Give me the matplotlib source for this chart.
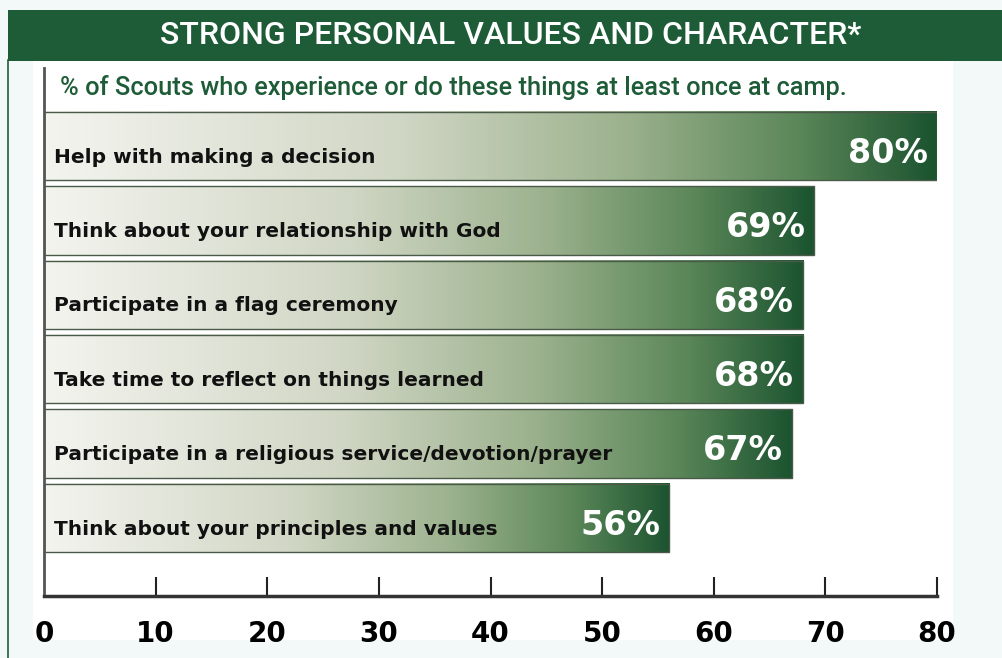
import numpy as np
import matplotlib
matplotlib.use('Agg')
import matplotlib.pyplot as plt
from matplotlib.colors import LinearSegmentedColormap
from matplotlib.patches import Rectangle

# data
labels = ['Help with making a decision',
          'Think about your relationship with God',
          'Participate in a flag ceremony',
          'Take time to reflect on things learned',
          'Participate in a religious service/devotion/prayer',
          'Think about your principles and values']
values = [80, 69, 68, 68, 67, 56]
xticks = [0, 10, 20, 30, 40, 50, 60, 70, 80]

title = 'STRONG PERSONAL VALUES AND CHARACTER*'
subtitle = '% of Scouts who experience or do these things at least once at camp.'

green = '#1e5c38'
sans = ['Roboto', 'DejaVu Sans']

fig = plt.figure(figsize=(10.03, 6.58), dpi=100)
fig.patch.set_facecolor('#f3f9f9')

W, H = 1003, 658
def fx(px): return px / W
def fy(py): return 1 - py / H

# white panel + header band (behind the axes)
fig.patches.append(Rectangle((fx(33), fy(640)), fx(953) - fx(33), fy(60) - fy(640),
                             transform=fig.transFigure, facecolor='white', edgecolor='none', zorder=-10))
fig.patches.append(Rectangle((fx(8), fy(61)), 1 - fx(8), fy(10) - fy(61),
                             transform=fig.transFigure, facecolor=green, edgecolor='none', zorder=-10))
fig.lines.append(plt.Line2D([fx(8.5), fx(8.5)], [0, fy(60)], transform=fig.transFigure,
                            color=green, lw=1.2, zorder=-10))

fig.text(fx(511), fy(35), title, color='white', fontsize=23, ha='center', va='center',
         family=sans, fontweight='medium')
fig.text(fx(60), fy(87), subtitle, color=green, fontsize=18.3, ha='left', va='center',
         family=sans, fontweight='medium')

ax = fig.add_axes([fx(44), fy(596), fx(937) - fx(44), fy(68) - fy(596)])
ax.set_facecolor('none')

# light-to-dark green fill along each bar
cmap = LinearSegmentedColormap.from_list('g', [(0, '#f4f4ef'), (0.4, '#d0d6c4'),
                                              (0.65, '#9cb28e'), (0.85, '#5a8658'),
                                              (1.0, '#1c5430')])
grad = np.linspace(0, 1, 256).reshape(1, -1)
n = len(values)
bh = 0.92
for i, (lab, v) in enumerate(zip(labels, values)):
    y = n - 1 - i
    ax.imshow(grad, extent=[0, v, y - bh / 2, y + bh / 2], aspect='auto', cmap=cmap,
              interpolation='bicubic', zorder=1)
    ax.add_patch(Rectangle((0, y - bh / 2), v, bh, facecolor='none', edgecolor='#4a5a48',
                           lw=1.0, zorder=2))
    ax.text(0.9, y - 0.15, lab, color='#111111', fontsize=14.5, fontweight='bold',
            ha='left', va='center', zorder=3)
    ax.text(v - 0.8, y - 0.1, f'{v}%', color='white', fontsize=24, fontweight='bold',
            ha='right', va='center', zorder=3)

ax.set_xlim(0, 80)
ax.set_ylim(-1.05, n - 1 + 1.05)
ax.set_yticks([])
ax.set_xticks(xticks)
ax.set_xticklabels([str(t) for t in xticks], fontsize=20, fontweight='bold')
ax.tick_params(axis='x', direction='in', length=14, width=1.5, color='#222222', pad=17)
ax.xaxis.get_major_ticks()[0].tick1line.set_visible(False)
for s in ['top', 'right']:
    ax.spines[s].set_visible(False)
ax.spines['bottom'].set_linewidth(2.5)
ax.spines['bottom'].set_color('#333333')
ax.spines['left'].set_linewidth(2)
ax.spines['left'].set_color('#555555')

fig.savefig('out.png', dpi=100, facecolor=fig.get_facecolor())
